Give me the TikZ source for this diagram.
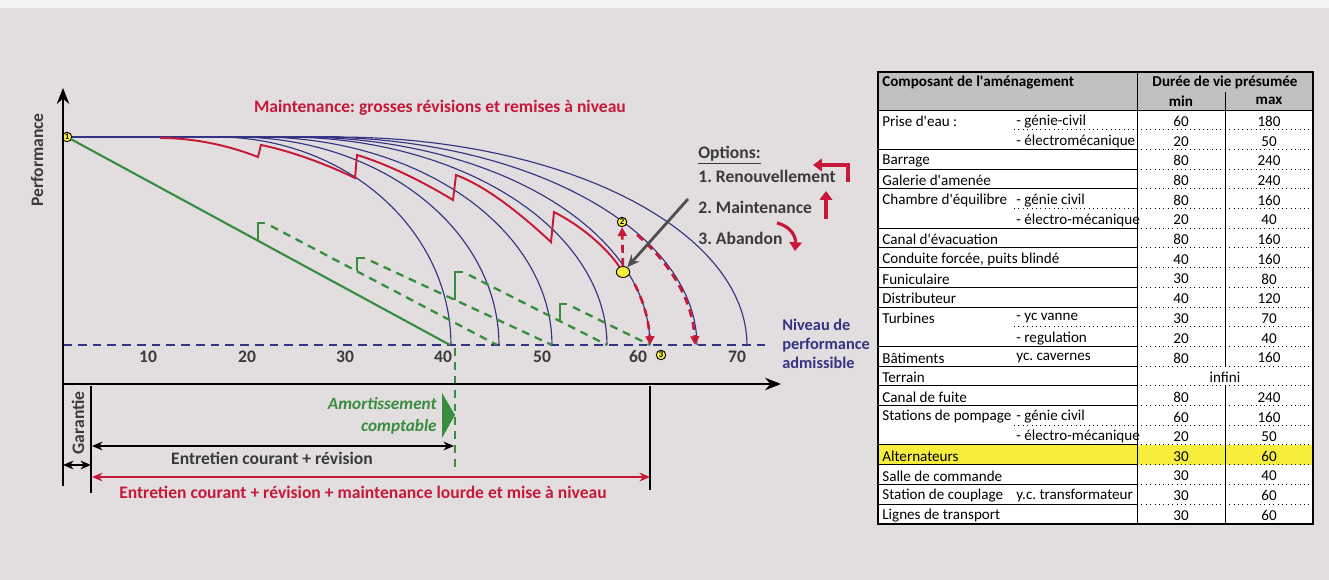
\documentclass[tikz,border=0pt]{standalone}
\usepackage{fontspec}
\setmainfont{Carlito}
\usetikzlibrary{arrows.meta}
\usetikzlibrary{shapes.geometric}
\definecolor{paper}{RGB}{226,222,223}
\definecolor{navy}{RGB}{52,52,132}
\definecolor{crimson}{RGB}{198,24,56}
\definecolor{leaf}{RGB}{56,140,62}
\definecolor{dot}{RGB}{246,238,58}
\definecolor{ink}{RGB}{58,58,62}
\definecolor{headgray}{RGB}{192,192,192}
\frenchspacing

\begin{document}
\begin{tikzpicture}[x=0.02cm,y=-0.02cm,
  every node/.style={inner sep=0pt, font=\fontsize{10}{12}\selectfont\bfseries},
  lifearc/.style={navy, line width=0.65pt},
  admis/.style={navy, line width=1.1pt, dash pattern=on 5pt off 3.4pt},
  gdash/.style={leaf, line width=1.3pt, dash pattern=on 4.5pt off 3.4pt},
  redash/.style={crimson, line width=1.5pt, dash pattern=on 4.5pt off 3pt, -{Triangle[length=5pt,width=5pt]}},
  redicon/.style={crimson, line width=1.8pt, -{Triangle[length=5pt,width=7pt]}},
  pt/.style={circle, draw=black, line width=0.5pt, fill=dot, minimum size=0.19cm, font=\fontsize{5}{5}\selectfont\bfseries},
  dimarrow/.style={line width=0.8pt, {Stealth[length=6pt,width=5pt]}-{Stealth[length=6pt,width=5pt]}},
  axis/.style={line width=1.4pt, -{Stealth[length=9pt,width=7pt]}},
  tabtext/.style={font=\fontsize{8.6}{9}\selectfont},
  tabhead/.style={font=\fontsize{8.6}{9}\selectfont\bfseries},
  tabrule/.style={line width=0.5pt},
  tabdot/.style={line width=0.5pt, dotted}
]
\useasboundingbox (0,0) rectangle (1329,580);
\fill[paper] (0,0) rectangle (1329,580);
\fill[white!60!paper] (0,0) rectangle (1329,8);

% life curves of the equipment
\foreach \s/\a in {217/234,236/263,259/293,285/322,299/351,316/381,337/410}
  \draw[lifearc] plot[domain=0:90,samples=40] ({\s+\a*sin(\x)},{345-208*cos(\x)});
\draw[admis] (63,345) -- (768,345);

% points
\node[pt] (p1) at (67,137) {1};
\node[pt] (p2) at (622,222) {2};
\node[pt] (p3) at (661,355) {3};
\node[ellipse, draw=black, line width=0.5pt, fill=dot, minimum width=0.27cm, minimum height=0.22cm] (opt) at (623,272) {};

\draw[navy, line width=1.1pt] (p1) -- (340,137);

% maintenance (red)
\draw[crimson, line width=1.1pt] (160,138) .. controls (200,138) and (235,148) .. (258,157) -- (261,145)
  .. controls (295,152) and (330,166) .. (355,178) -- (357,155)
  .. controls (390,165) and (425,183) .. (453,200) -- (456,175)
  .. controls (490,188) and (525,218) .. (551,242) -- (554,212)
  .. controls (585,228) and (608,250) .. (opt);
\draw[redash] (opt) -- (p2);
\draw[redash] plot[domain=73:90,samples=20] ({299+351*sin(\x)},{345-208*cos(\x)});
\draw[redash] plot[domain=58:90,samples=30] ({314+381*sin(\x)},{345-208*cos(\x)});

% amortissement (green)
\begin{scope}[leaf, line width=1.2pt]
\draw (p1) -- (450,345);
\draw (258,240) -- (258,223) -- (265,223);
\draw (357,271) -- (357,258) -- (365,258);
\draw (455,300) -- (455,272) -- (463,272);
\draw (560,320) -- (560,304) -- (567,304);
\end{scope}
\draw[gdash] (271,226) -- (497,345);
\draw[gdash] (371,261) -- (552,345);
\draw[gdash] (469,275) -- (607,345);
\draw[gdash] (573,307) -- (650,345);
\draw[gdash] (455,348) -- (455,467);

% axes
\draw[axis] (63,486) -- (63,88);
\draw[axis] (63,384) -- (781,384);
\node[rotate=90, ink] (perf) at (37,160) {Performance};
\foreach \v/\px in {10/148,20/247,30/345,40/443,50/542,60/638,70/737}
  \node[ink] (lab\v) at (\px,357) {\v};

% texts
\node[crimson] (title) at (440,108) {Maintenance: grosses révisions et remises à niveau};
\node[navy, anchor=west, align=left, font=\fontsize{9.3}{10.8}\selectfont\bfseries] (niv) at (782,344) {Niveau de\\performance\\admissible};
\node[ink, anchor=west] (optT) at (698,155) {\underline{Options:}};
\node[ink, anchor=west] (opt1) at (698,176) {1. Renouvellement};
\node[ink, anchor=west] (opt2) at (698,207) {2. Maintenance};
\node[ink, anchor=west] (opt3) at (698,238) {3. Abandon};
\draw[redicon] (848,182) -- (848,165) -- (813,165);
\draw[redicon] (826,219) -- (826,191);
\draw[redicon] (777,223) .. controls (790,226) and (796,236) .. (795,251);
\coordinate (tail) at (688,199);
\draw[ink!90, line width=1.6pt, -{Stealth[length=7pt,width=6pt]}] (tail) -- (opt);

% durations below the axis
\draw[line width=0.9pt] (91,386) -- (91,493);
\draw[line width=0.9pt] (650,386) -- (650,490);
\node[rotate=90, ink] (gar) at (78,423) {Garantie};
\coordinate (g0) at (63,465);
\coordinate (g1) at (91,465);
\draw[dimarrow] (g0) -- (g1);
\coordinate (e0) at (92,446);
\coordinate (e1) at (454,446);
\draw[dimarrow] (e0) -- (e1);
\node[ink] (entr) at (272,458) {Entretien courant + révision};
\coordinate (m0) at (92,477);
\coordinate (m1) at (650,477);
\draw[dimarrow, crimson] (m0) -- (m1);
\node[crimson] (entm) at (363,492) {Entretien courant + révision + maintenance lourde et mise à niveau};
\fill[leaf] (442,393) -- (455,415) -- (442,438) -- cycle;
\node[leaf, anchor=east, align=right, font=\fontsize{9.8}{12.4}\selectfont\bfseries\itshape] (amort) at (437,416) {Amortissement\\comptable};

% table
\fill[white] (878,72) rectangle (1313,524);
\fill[headgray] (878,72) rectangle (1313,110);
\fill[dot] (878,{110+19.7*17}) rectangle (1313,{110+19.7*18});
\node[tabhead, anchor=west] (hcomp) at (882,82) {Composant de l\textquotesingle aménagement};
\node[tabhead] (hduree) at (1225,82) {Durée de vie présumée};
\node[tabhead] (hmin) at (1181,101) {min};
\node[tabhead] (hmax) at (1269,101) {max};
\foreach \i/\a/\b/\mn/\mx in {0/Prise d\textquotesingle eau :/- génie-civil/60/180,
    1//- électromécanique/20/50,
    2/Barrage//80/240,
    3/Galerie d\textquotesingle amenée//80/240,
    4/Chambre d\textquotesingle équilibre/- génie civil/80/160,
    5//- électro-mécanique/20/40,
    6/Canal d\textquotesingle évacuation//80/160,
    7/{Conduite forcée, puits blindé}//40/160,
    8/Funiculaire//30/80,
    9/Distributeur//40/120,
    10/Turbines/- yc vanne/30/70,
    11//- regulation/20/40,
    12/Bâtiments/yc. cavernes/80/160,
    14/Canal de fuite//80/240,
    15/Stations de pompage/- génie civil/60/160,
    16//- électro-mécanique/20/50,
    17/Alternateurs//30/60,
    18/Salle de commande//30/40,
    19/Station de couplage/y.c. transformateur/30/60,
    20/Lignes de transport//30/60} {
  \node[tabtext, anchor=west] (ca\i) at (882,{121.5+19.7*\i}) {\a};
  \node[tabtext, anchor=west] (cb\i) at (1016,{121.5+19.7*\i}) {\b};
  \node[tabtext] (cmin\i) at (1181,{121.5+19.7*\i}) {\mn};
  \node[tabtext] (cmax\i) at (1269,{121.5+19.7*\i}) {\mx};
}
\node[tabtext, anchor=west] (ca13) at (882,{121.5+19.7*13}) {Terrain};
\node[tabtext] (cinf) at (1225,{121.5+19.7*13}) {infini};
\foreach \k in {2,3,4,6,7,8,9,10,12,13,14,15,17,18,19,20}
  \draw[tabrule] (878,{110+19.7*\k}) -- (1137,{110+19.7*\k});
\foreach \k in {1,5,11,16}
  \draw[tabdot] (1014,{110+19.7*\k}) -- (1137,{110+19.7*\k});
\foreach \k in {1,...,20}
  \draw[tabdot] (1137,{110+19.7*\k}) -- (1313,{110+19.7*\k});
\draw[tabrule] (878,110) -- (1313,110);
\draw[tabrule] (1137,72) -- (1137,524);
\draw[tabrule] (1225,92) -- (1225,{110+19.7*13});
\draw[tabrule] (1225,{110+19.7*14}) -- (1225,524);
\draw[line width=1pt] (878,72) rectangle (1313,524);
\end{tikzpicture}
\end{document}
